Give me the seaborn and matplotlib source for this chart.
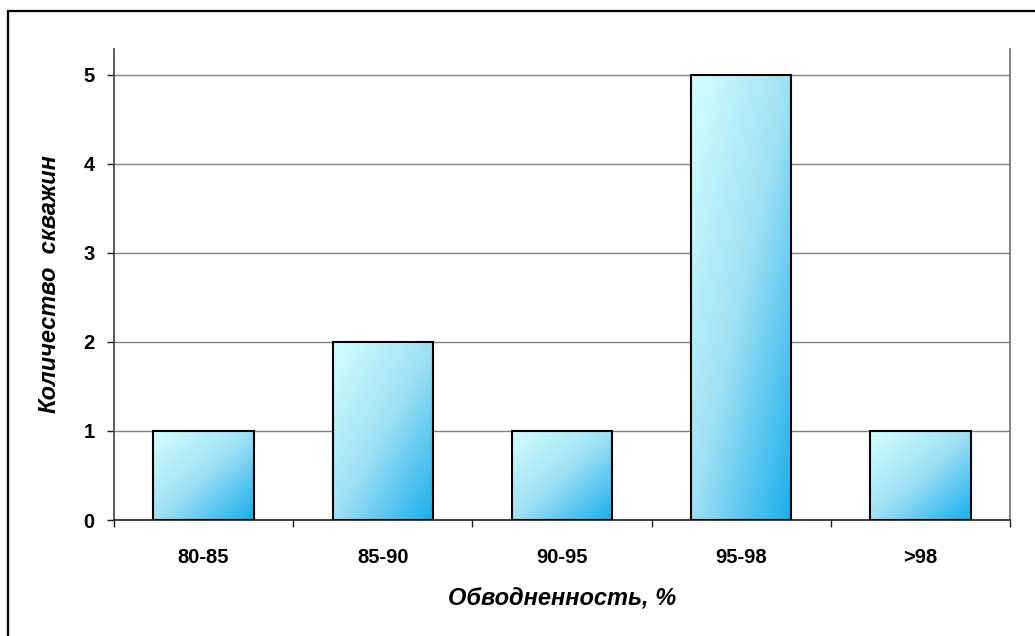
import numpy as np
import pandas as pd
import matplotlib
matplotlib.use("Agg")
import matplotlib.pyplot as plt
from matplotlib.colors import LinearSegmentedColormap
from matplotlib.patches import Rectangle
from matplotlib.ticker import FixedLocator
import seaborn as sns

# Распределение скважин по обводненности
categories = ["80-85", "85-90", "90-95", "95-98", ">98"]
counts = [1, 2, 1, 5, 1]

x_label = "Обводненность, %"
y_label = "Количество  скважин"

df = pd.DataFrame({"cat": categories, "n": counts})

sns.set_theme(style="white")
plt.rcParams["font.family"] = ["Liberation Sans", "DejaVu Sans"]
plt.rcParams["text.color"] = "black"
plt.rcParams["axes.labelcolor"] = "black"
plt.rcParams["xtick.color"] = "black"
plt.rcParams["ytick.color"] = "black"

W, H = 1035, 636
fig = plt.figure(figsize=(W / 100, H / 100), dpi=100)
ax = fig.add_axes([114 / W, 1 - 520 / H, (1010 - 114) / W, (520 - 49) / H])

sns.barplot(data=df, x="cat", y="n", ax=ax, width=0.56, color="#66ccee",
            edgecolor="black", linewidth=1.5, zorder=3)

# diagonal gradient fill inside each bar
grad_cmap = LinearSegmentedColormap.from_list("well", ["#d2ffff", "#9fe0f4", "#19aeec"])
uu, vv = np.meshgrid(np.linspace(0, 1, 200), np.linspace(0, 1, 200))
grad = (uu + vv) / 2.0  # origin='upper': row 0 at top
for patch in ax.patches:
    x0, y0 = patch.get_x(), patch.get_y()
    w, h = patch.get_width(), patch.get_height()
    im = ax.imshow(grad, cmap=grad_cmap, extent=(x0, x0 + w, y0, y0 + h),
                   origin="upper", aspect="auto", zorder=2.5, interpolation="bilinear")
    im.set_clip_path(patch)
    patch.set_facecolor("none")
    patch.set_zorder(3)

ax.set_aspect("auto")
ax.set_xlim(-0.5, len(categories) - 0.5)
ax.set_ylim(0, 5.29)
ax.set_yticks(range(0, 6))

# grid and spines
ax.yaxis.grid(True, color="#808080", linewidth=1.0, zorder=1)
ax.xaxis.grid(False)
ax.set_axisbelow(True)
ax.spines["top"].set_visible(False)
ax.spines["left"].set_color("#404040")
ax.spines["bottom"].set_color("#202020")
ax.spines["right"].set_color("#707070")
for s in ("left", "bottom", "right"):
    ax.spines[s].set_linewidth(1.2)

# category boundaries as tick marks
ax.xaxis.set_minor_locator(FixedLocator(np.arange(-0.5, len(categories), 1.0)))
ax.tick_params(axis="x", which="minor", length=5, width=1, color="#202020", direction="out", bottom=True)
ax.tick_params(axis="x", which="major", length=0, pad=20, labelsize=14.5)
ax.tick_params(axis="y", which="major", length=5, width=1, color="#202020", direction="out",
               left=True, pad=9, labelsize=14.5)
for lab in ax.get_xticklabels() + ax.get_yticklabels():
    lab.set_fontweight("bold")

ax.set_xlabel(x_label, fontsize=17, fontweight="bold", fontstyle="italic", labelpad=14)
ax.set_ylabel(y_label, fontsize=17, fontweight="bold", fontstyle="italic", labelpad=16)

# chart frame
fig.patches.append(Rectangle((8 / W, -0.1), 1.2, 1 - 11 / H + 0.1, transform=fig.transFigure,
                             fill=False, edgecolor="black", linewidth=1.6, zorder=10))

fig.savefig("out.png", dpi=100, facecolor="white")
